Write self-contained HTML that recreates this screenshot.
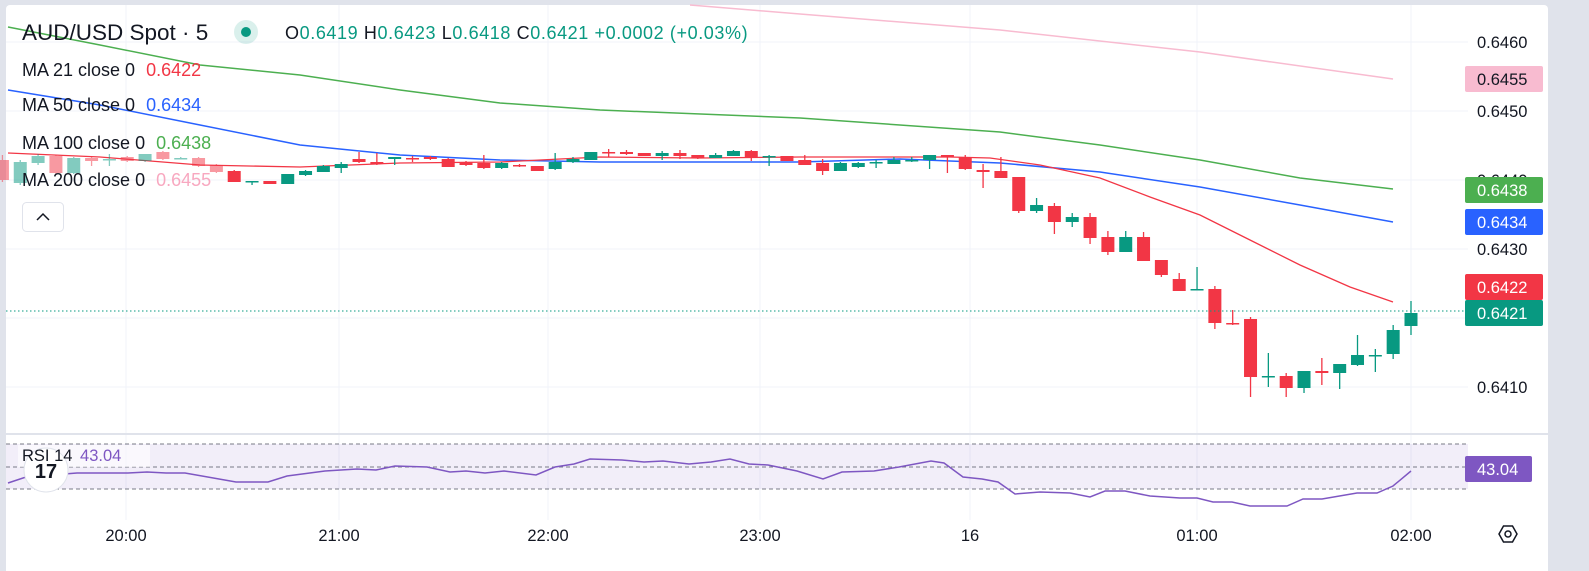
<!DOCTYPE html>
<html><head><meta charset="utf-8"><style>
body{margin:0;width:1589px;height:571px;background:#e0e3eb;overflow:hidden;font-family:"Liberation Sans",sans-serif;}
#p{position:absolute;left:6px;top:5px;width:1542px;height:566px;background:#fff;border-radius:4px 4px 0 0;}
svg{position:absolute;left:0;top:0}
</style></head><body>
<div id="p"></div>
<svg id="s" width="1589" height="571" xmlns="http://www.w3.org/2000/svg"></svg>
<script>
const S=document.getElementById('s');let h='';
const G='#089981',R='#f23645';
[42,111,180,249,318,387].forEach(y=>h+=`<line x1="6" x2="1468" y1="${y}" y2="${y}" stroke="#f0f3fa"/>`);
[126,339,548,760,970,1197,1411].forEach(x=>h+=`<line x1="${x}" x2="${x}" y1="5" y2="520" stroke="#f0f3fa"/>`);
function pl(pts,c,w){h+=`<polyline fill="none" stroke="${c}" stroke-width="${w}" points="${pts.map(p=>p.join(',')).join(' ')}"/>`;}
pl([[690,5],[800,14],[1000,30],[1200,52],[1393,79]],'#f8bbd0',1.5);
pl([[8,27],[100,45],[200,65],[300,75],[400,90],[500,103],[600,110],[800,118],[1000,132],[1100,145],[1200,160],[1300,178],[1393,189]],'#4caf50',1.5);
pl([[8,90],[100,105],[200,125],[300,145],[400,155],[500,160],[600,162],[800,162],[900,159],[1000,163],[1100,172],[1200,187],[1300,205],[1393,222]],'#2962ff',1.5);
pl([[8,153],[100,157],[200,165],[300,167],[400,163],[500,162],[600,157],[700,158],[800,157],[900,157],[950,157],[990,158],[1040,165],[1100,178],[1150,197],[1200,215],[1250,240],[1300,265],[1350,287],[1393,302]],'#f23645',1.3);
const c=[
[R,160,180,155,182],
[G,162,183,160,185],[G,156,163,154,165],[R,156,173,155,174],[G,158,173,157,174],[R,158,161,157,166],[G,159,160,154,166],[R,157,161,156,162],[G,154,161,154,162],[R,152,159,151,160],[G,158,158,157,159],[R,158,166,157,167],[R,165,172,164,173],
[R,171,182,170,182],[G,181,181,181,185],[R,181,184,181,184],[G,174,184,174,184],[G,171,175,170,176],[G,166,172,165,172],[G,164,168,162,173],[R,159,162,152,163],[R,162,164,153,165],[G,157,159,157,165],[R,158,158,156,162],[R,157,159,156,160],[R,159,167,158,167],[R,162,165,161,166],[R,163,168,155,169],
[G,163,168,162,169],[R,165,166,164,167],[R,166,171,166,171],[G,162,169,153,170],[G,159,162,157,163],[G,152,160,152,160],[R,152,152,149,157],[R,152,154,150,155],[R,153,156,153,156],[G,153,156,151,160],[R,153,156,150,159],[R,155,158,155,159],[G,155,158,153,158],[G,151,156,150,156],[R,151,157,150,161],[G,156,156,155,166],[R,156,161,156,161],[R,160,165,155,165],[R,163,171,159,175],[G,163,171,162,171],[G,163,167,162,168],[G,162,163,160,168],[G,160,164,157,164],[G,160,160,157,162],[G,155,160,155,169],[R,155,157,155,173],[R,157,169,155,170],[R,170,172,164,188],[R,171,178,157,178],[R,177,211,177,213],[G,205,211,198,213],[R,206,222,203,234],[G,217,222,213,227],[R,217,238,213,244],[R,237,252,231,255],[G,237,252,231,252],[R,237,261,232,261],
[R,260,275,260,277],[R,279,291,273,291],[G,289,289,267,289],[R,289,323,286,329],[R,323,323,310,325],[R,319,377,317,397],[G,376,376,353,387],[R,376,388,373,397],[G,371,388,371,393],[R,371,373,358,385],[G,364,373,364,389],[G,355,365,335,366],[G,355,355,349,372],[G,330,354,325,359],[G,313,326,301,335]];
c.forEach((d,i)=>{const x=1411-(c.length-1-i)*17.83;const op=i<13?0.5:1;
h+=`<g opacity="${op}"><line x1="${x}" x2="${x}" y1="${d[3]}" y2="${d[4]}" stroke="${d[0]}" stroke-width="1.3"/><rect x="${x-6.5}" y="${d[1]}" width="13" height="${Math.max(1.5,d[2]-d[1])}" fill="${d[0]}"/></g>`;});
h+=`<line x1="6" x2="1468" y1="311" y2="311" stroke="${G}" stroke-dasharray="1.5 2.5"/>`;
h+=`<rect x="6" y="433" width="1542" height="2" fill="#e0e3eb"/>`;
h+=`<rect x="6" y="444" width="1462" height="45" fill="#7e57c2" opacity="0.1"/>`;
[444,467,489].forEach(y=>h+=`<line x1="6" x2="1468" y1="${y}" y2="${y}" stroke="#787b86" stroke-dasharray="4 3"/>`);
pl([[8,483],[26,477],[77,473],[128,473],[147,472],[166,473],[185,473],[236,482],[268,482],[287,476],[325,471],[357,469],[376,470],[395,466],[427,467],[450,472],[466,471],[485,473],[504,471],[536,475],[555,467],[574,464],[590,459],[622,460],[644,462],[663,461],[689,464],[711,462],[730,459],[749,464],[768,465],[797,471],[823,479],[842,472],[874,471],[899,467],[931,461],[944,463],[963,477],[982,479],[998,482],[1015,494],[1040,492],[1070,493],[1090,497],[1105,491],[1125,491],[1150,496],[1180,498],[1197,498],[1213,502],[1232,502],[1250,506],[1287,506],[1303,499],[1322,499],[1357,493],[1377,493],[1393,486],[1411,471]],'#7e57c2',1.5);
h+=`<rect x="18" y="445" width="132" height="22" fill="#fff" opacity="0.6"/>`;
h+=`<circle cx="46" cy="470" r="22" fill="#fff" stroke="#e0e3eb"/><text x="46" y="478" font-size="20" font-weight="bold" text-anchor="middle" fill="#131722">17</text>`;
h+=`<text x="22" y="461" font-size="16.5" fill="#131722">RSI 14 <tspan dx="3" fill="#7e57c2">43.04</tspan></text>`;
[[42,'0.6460'],[111,'0.6450'],[180,'0.6440'],[249,'0.6430'],[387,'0.6410']].forEach(p=>h+=`<text x="1477" y="${p[0]+6}" font-size="16.5" fill="#131722">${p[1]}</text>`);
function box(y,bg,fg,t,w){h+=`<rect x="1465" y="${y}" width="${w||78}" height="26" rx="2" fill="${bg}"/><text x="1477" y="${y+19}" font-size="16.5" fill="${fg}">${t}</text>`;}
box(66,'#f8bbd0','#131722','0.6455');box(177,'#4caf50','#fff','0.6438');box(209,'#2962ff','#fff','0.6434');box(274,'#f23645','#fff','0.6422');box(300,G,'#fff','0.6421');box(456,'#7e57c2','#fff','43.04',67);
[[126,'20:00'],[339,'21:00'],[548,'22:00'],[760,'23:00'],[970,'16'],[1197,'01:00'],[1411,'02:00']].forEach(p=>h+=`<text x="${p[0]}" y="541" font-size="16.5" fill="#131722" text-anchor="middle">${p[1]}</text>`);
h+=`<polygon points="1499,534 1503.5,526 1512.5,526 1517,534 1512.5,542 1503.5,542" fill="none" stroke="#131722" stroke-width="1.5"/><circle cx="1508" cy="534" r="3" fill="none" stroke="#131722" stroke-width="1.5"/>`;
h+=`<text x="22" y="40" font-size="22.5" fill="#131722">AUD/USD Spot · 5</text>`;
h+=`<circle cx="246" cy="32" r="12" fill="#089981" opacity="0.15"/><circle cx="246" cy="32" r="5" fill="${G}"/>`;
h+=`<text x="285" y="39" font-size="18" letter-spacing="0.6" fill="${G}"><tspan fill="#131722">O</tspan>0.6419 <tspan fill="#131722">H</tspan>0.6423 <tspan fill="#131722">L</tspan>0.6418 <tspan fill="#131722">C</tspan>0.6421 +0.0002 (+0.03%)</text>`;
[[76,'MA 21 close 0','0.6422',R],[111,'MA 50 close 0','0.6434','#2962ff'],[149,'MA 100 close 0','0.6438','#4caf50'],[186,'MA 200 close 0','0.6455','#f8a8c0']].forEach(m=>h+=`<text x="22" y="${m[0]}" font-size="18" fill="#131722">${m[1]} <tspan dx="6" fill="${m[3]}">${m[2]}</tspan></text>`);
h+=`<rect x="22.5" y="202.5" width="41" height="29" rx="4" fill="#fff" stroke="#e0e3eb"/><polyline points="37,220 43,214 49,220" fill="none" stroke="#131722" stroke-width="1.5"/>`;
S.innerHTML=h;
</script>
</body></html>
